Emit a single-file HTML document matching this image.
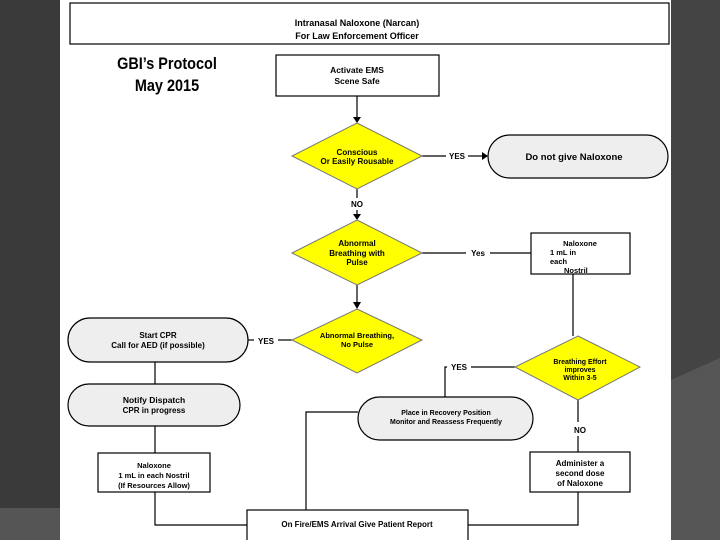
<!DOCTYPE html>
<html><head><meta charset="utf-8"><style>
html,body{margin:0;padding:0;width:720px;height:540px;overflow:hidden;background:#3a3a3a}
svg{display:block}
text{font-family:"Liberation Sans",Arial,sans-serif;font-weight:bold;fill:#000}
</style></head><body>
<svg width="720" height="540" viewBox="0 0 720 540" xmlns="http://www.w3.org/2000/svg">
<rect x="0" y="0" width="720" height="540" fill="#3a3a3a"/>
<rect x="0" y="508" width="60" height="32" fill="#555"/>
<rect x="671" y="0" width="49" height="540" fill="#444"/>
<polygon points="671,380 720,358 720,540 671,540" fill="#565656"/>
<rect x="60" y="0" width="611" height="540" fill="#fff"/>
<g stroke="#000" stroke-width="1.2" fill="none">
<rect x="70" y="3" width="599" height="41"/>
<rect x="276" y="55" width="163" height="41"/>
<line x1="357" y1="96" x2="357" y2="118"/>
<line x1="422" y1="156" x2="446" y2="156"/><line x1="468" y1="156" x2="484" y2="156"/>
<line x1="357" y1="189" x2="357" y2="198"/><line x1="357" y1="210" x2="357" y2="216"/>
<line x1="422" y1="253" x2="466" y2="253"/><line x1="490" y1="253" x2="531" y2="253"/>
<rect x="531" y="233" width="99" height="41"/>
<line x1="573" y1="274" x2="573" y2="336"/>
<line x1="357" y1="285" x2="357" y2="304"/>
<line x1="248" y1="340" x2="254" y2="340"/><line x1="278" y1="340" x2="292" y2="340"/>
<line x1="155" y1="362" x2="155" y2="384"/>
<line x1="155" y1="426" x2="155" y2="453"/>
<rect x="98" y="453" width="112" height="39"/>
<polyline points="155,492 155,525 247,525"/>
<rect x="247" y="510" width="221" height="32"/>
<polyline points="358,412 306,412 306,510"/>
<polyline points="515,367 471,367"/><polyline points="447,367 445,367 445,397"/>
<line x1="578" y1="400" x2="578" y2="422"/><line x1="578" y1="436" x2="578" y2="452"/>
<rect x="530" y="452" width="100" height="40"/>
<polyline points="578,492 578,525 468,525"/>
</g>
<g fill="#000">
<polygon points="353,117 361,117 357,123"/>
<polygon points="482,152 482,160 488,156"/>
<polygon points="353,214 361,214 357,220"/>
<polygon points="353,302 361,302 357,309"/>
</g>
<g fill="#ffff00" stroke="#777" stroke-width="1">
<polygon points="357,123 422,156 357,189 292,156"/>
<polygon points="357,220 422,253 357,285 292,253"/>
<polygon points="357,309 422,340 357,373 292,340"/>
<polygon points="578,336 640,367 578,400 515,367"/>
</g>
<g fill="#eee" stroke="#000" stroke-width="1.2">
<rect x="488" y="135" width="180" height="43" rx="21.5"/>
<rect x="68" y="318" width="180" height="44" rx="22"/>
<rect x="68" y="384" width="172" height="42" rx="21"/>
<rect x="358" y="397" width="175" height="43" rx="21.5"/>
</g>
<g text-anchor="middle" font-size="9">
<text x="357" y="26">Intranasal Naloxone (Narcan)</text>
<text x="357" y="39">For Law Enforcement Officer</text>
<text x="357" y="73" font-size="8.5">Activate EMS</text>
<text x="357" y="84" font-size="8.5">Scene Safe</text>
<text x="357" y="155" font-size="8">Conscious</text>
<text x="357" y="164" font-size="8">Or Easily Rousable</text>
<text x="457" y="159" font-size="8">YES</text>
<text x="574" y="160" font-size="9.5">Do not give Naloxone</text>
<text x="357" y="207" font-size="8">NO</text>
<text x="357" y="246" font-size="8">Abnormal</text>
<text x="357" y="256" font-size="8">Breathing with</text>
<text x="357" y="265" font-size="8">Pulse</text>
<text x="478" y="256" font-size="8">Yes</text>
<text x="580" y="246" font-size="7.5">Naloxone</text>
<text x="563" y="338" font-size="7.5"> </text>
<text x="357" y="338" font-size="7.5">Abnormal Breathing,</text>
<text x="357" y="347" font-size="7.5">No Pulse</text>
<text x="158" y="338" font-size="8">Start CPR</text>
<text x="158" y="348" font-size="8">Call for AED (if possible)</text>
<text x="266" y="344" font-size="8">YES</text>
<text x="154" y="403" font-size="8.5">Notify Dispatch</text>
<text x="154" y="413" font-size="8">CPR in progress</text>
<text x="154" y="468" font-size="7.5">Naloxone</text>
<text x="154" y="478" font-size="7.5">1 mL in each Nostril</text>
<text x="154" y="488" font-size="7.5">(If Resources Allow)</text>
<text x="446" y="415" font-size="7">Place in Recovery Position</text>
<text x="446" y="424" font-size="7">Monitor and Reassess Frequently</text>
<text x="459" y="370" font-size="8">YES</text>
<text x="580" y="364" font-size="7">Breathing Effort</text>
<text x="580" y="372" font-size="7">improves</text>
<text x="580" y="380" font-size="7">Within 3-5</text>
<text x="580" y="433" font-size="8">NO</text>
<text x="580" y="466" font-size="8">Administer a</text>
<text x="580" y="476" font-size="8">second dose</text>
<text x="580" y="486" font-size="8">of Naloxone</text>
<text x="357" y="527" font-size="8">On Fire/EMS Arrival Give Patient Report</text>
</g>
<g font-size="7.5">
<text x="550" y="255">1 mL in</text>
<text x="550" y="264">each</text>
<text x="564" y="273">Nostril</text>
</g>
<g text-anchor="middle" font-size="17">
<text x="167" y="69" transform="translate(167 0) scale(0.85 1) translate(-167 0)">GBI’s Protocol</text>
<text x="167" y="91" transform="translate(167 0) scale(0.85 1) translate(-167 0)">May 2015</text>
</g>
</svg>
</body></html>
